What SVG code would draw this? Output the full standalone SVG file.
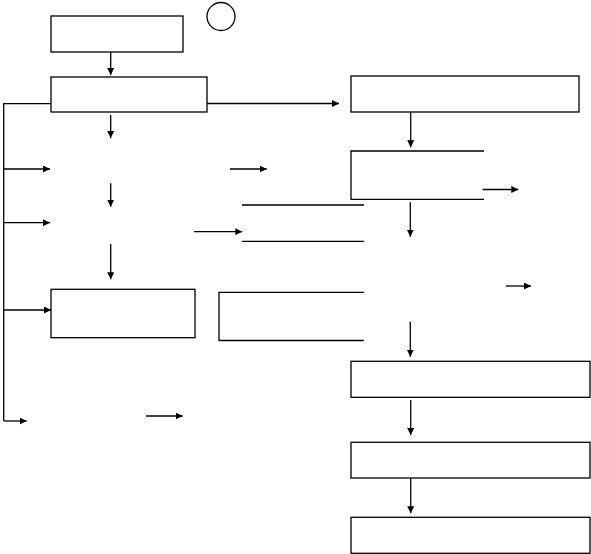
<svg xmlns="http://www.w3.org/2000/svg" width="591" height="554" viewBox="0 0 591 554">
<style>
.n{fill:none;stroke:#000;stroke-width:1.3}
.c{fill:none;stroke:#000;stroke-width:1.3}
.a{marker-end:url(#ah)}
</style>
<defs>
<marker id="ah" viewBox="0 0 7 7" refX="7" refY="3.5" markerWidth="7" markerHeight="7" markerUnits="userSpaceOnUse" orient="auto">
<path d="M0,0 L7,3.5 L0,7 z" fill="#000"/>
</marker>
</defs>
<rect width="591" height="554" fill="#fff"/>
<g id="box1"><rect class="n" x="51" y="16" width="132" height="36"/></g>
<g id="circle"><circle class="n" cx="221" cy="16.5" r="14"/></g>
<g id="box2"><rect class="n" x="51" y="77" width="156" height="35"/></g>
<g id="box3"><rect class="n" x="351" y="76" width="228" height="36"/></g>
<g id="box4"><path class="n" d="M484,151 H351 V199.3 H484"/></g>
<g id="box5"><rect class="n" x="51" y="289.3" width="144" height="48.4"/></g>
<g id="box6"><path class="n" d="M364,292.3 H219 V340.5 H364"/></g>
<g id="lines7"><path class="n" d="M242,205 H364 M242,241.3 H364"/></g>
<g id="box7"><rect class="n" x="351" y="361.3" width="239" height="36"/></g>
<g id="box8"><rect class="n" x="351" y="442.3" width="239" height="35.7"/></g>
<g id="box9"><rect class="n" x="351" y="517.3" width="239" height="36"/></g>
<g id="connectors">
<path class="c a" d="M110.7,52 V75"/>
<path class="c" d="M51,103.7 H3.7 V421"/>
<path class="c a" d="M207,103.5 H339"/>
<path class="c a" d="M110.7,115 V138"/>
<path class="c a" d="M410.7,112 V147.3"/>
<path class="c a" d="M3.7,169 H50"/>
<path class="c a" d="M230,169 H266.7"/>
<path class="c a" d="M482.5,189.5 H518.3"/>
<path class="c a" d="M110.7,183.3 H110.7 V206.7"/>
<path class="c a" d="M410.3,202.3 V236.7"/>
<path class="c a" d="M3.7,222.7 H50"/>
<path class="c a" d="M194,231.7 H242.3"/>
<path class="c a" d="M110.7,244 V279.3"/>
<path class="c a" d="M506,286 H531"/>
<path class="c a" d="M3.7,310 H51"/>
<path class="c a" d="M410.3,321.7 V356.7"/>
<path class="c a" d="M146,416 H182.7"/>
<path class="c a" d="M3.7,421 H26.7"/>
<path class="c a" d="M410.7,400 V435"/>
<path class="c a" d="M410.7,478 V513.3"/>
</g>
</svg>
